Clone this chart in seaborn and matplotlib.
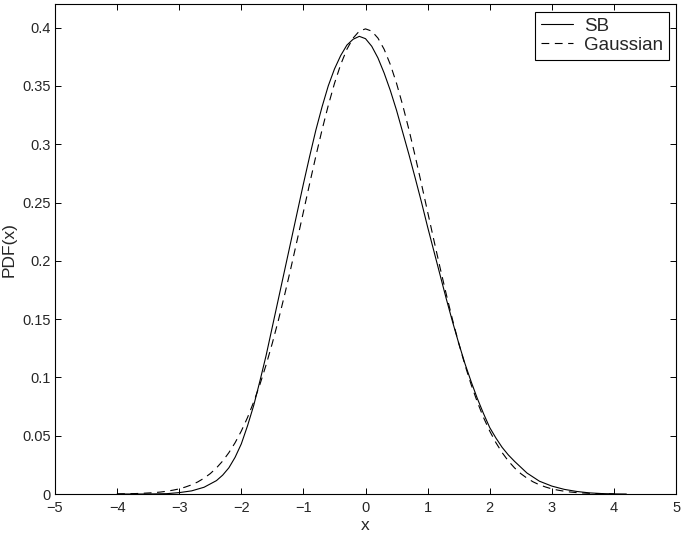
import pandas as pd
import numpy as np
import matplotlib
matplotlib.use('Agg')
import matplotlib.pyplot as plt
import seaborn as sns

# Các giá trị
x_sb = [-4.0, -3.8, -3.6, -3.4, -3.2, -3.0, -2.8, -2.6, -2.4, -2.3, -2.2, -2.1, -2.0,
        -1.9, -1.8, -1.7, -1.6, -1.5, -1.4, -1.3, -1.2, -1.1, -1.0, -0.9, -0.8, -0.7,
        -0.6, -0.5, -0.4, -0.3, -0.2, -0.1, 0.0, 0.1, 0.2, 0.3, 0.4, 0.5, 0.6, 0.7,
        0.8, 0.9, 1.0, 1.1, 1.2, 1.3, 1.4, 1.5, 1.6, 1.7, 1.8, 1.9, 2.0, 2.1, 2.2,
        2.3, 2.4, 2.6, 2.8, 3.0, 3.2, 3.4, 3.6, 3.8, 4.0, 4.2]
pdf_sb = [0.0, 0.0, 0.0, 0.0001, 0.0003, 0.0012, 0.0027, 0.0058, 0.0115, 0.0162,
          0.0225, 0.0315, 0.0430, 0.0585, 0.0760, 0.0970, 0.1190, 0.1435, 0.1680,
          0.1925, 0.2170, 0.2415, 0.2660, 0.2895, 0.3120, 0.3320, 0.3500, 0.3645,
          0.3760, 0.3850, 0.3900, 0.3925, 0.3905, 0.3840, 0.3740, 0.3610, 0.3460,
          0.3290, 0.3100, 0.2910, 0.2710, 0.2505, 0.2290, 0.2085, 0.1880, 0.1675,
          0.1480, 0.1295, 0.1120, 0.0965, 0.0820, 0.0690, 0.0570, 0.0480, 0.0400,
          0.0335, 0.0280, 0.0180, 0.0110, 0.0068, 0.0040, 0.0022, 0.0010, 0.0004,
          0.0001, 0.0]

x_gauss = [-4.0, -3.9, -3.8, -3.7, -3.6, -3.5, -3.4, -3.3, -3.2, -3.1, -3.0, -2.9,
           -2.8, -2.7, -2.6, -2.5, -2.4, -2.3, -2.2, -2.1, -2.0, -1.9, -1.8, -1.7,
           -1.6, -1.5, -1.4, -1.3, -1.2, -1.1, -1.0, -0.9, -0.8, -0.7, -0.6, -0.5,
           -0.4, -0.3, -0.2, -0.1, 0.0, 0.1, 0.2, 0.3, 0.4, 0.5, 0.6, 0.7, 0.8, 0.9,
           1.0, 1.1, 1.2, 1.3, 1.4, 1.5, 1.6, 1.7, 1.8, 1.9, 2.0, 2.1, 2.2, 2.3, 2.4,
           2.5, 2.6, 2.7, 2.8, 2.9, 3.0, 3.1, 3.2, 3.3, 3.4, 3.5, 3.6, 3.7, 3.8, 3.9, 4.0]
pdf_gauss = [0.0001, 0.0002, 0.0003, 0.0004, 0.0006, 0.0009, 0.0012, 0.0017, 0.0024,
             0.0033, 0.0044, 0.0060, 0.0079, 0.0104, 0.0136, 0.0175, 0.0224, 0.0283,
             0.0355, 0.0440, 0.0540, 0.0656, 0.0790, 0.0940, 0.1109, 0.1295, 0.1497,
             0.1714, 0.1942, 0.2179, 0.2420, 0.2661, 0.2897, 0.3123, 0.3332, 0.3521,
             0.3683, 0.3814, 0.3910, 0.3970, 0.3989, 0.3970, 0.3910, 0.3814, 0.3683,
             0.3521, 0.3332, 0.3123, 0.2897, 0.2661, 0.2420, 0.2179, 0.1942, 0.1714,
             0.1497, 0.1295, 0.1109, 0.0940, 0.0790, 0.0656, 0.0540, 0.0440, 0.0355,
             0.0283, 0.0224, 0.0175, 0.0136, 0.0104, 0.0079, 0.0060, 0.0044, 0.0033,
             0.0024, 0.0017, 0.0012, 0.0009, 0.0006, 0.0004, 0.0003, 0.0002, 0.0001]

x_ticks = [-5, -4, -3, -2, -1, 0, 1, 2, 3, 4, 5]
y_ticks = [0, 0.05, 0.1, 0.15, 0.2, 0.25, 0.3, 0.35, 0.4]
y_tick_labels = ['0', '0.05', '0.1', '0.15', '0.2', '0.25', '0.3', '0.35', '0.4']

df = pd.concat([
    pd.DataFrame({'x': x_sb, 'pdf': pdf_sb, 'curve': 'SB'}),
    pd.DataFrame({'x': x_gauss, 'pdf': pdf_gauss, 'curve': 'Gaussian'}),
], ignore_index=True)

sns.set_style('ticks')
plt.rcParams['font.family'] = ['Liberation Sans', 'DejaVu Sans']
plt.rcParams['xtick.direction'] = 'in'
plt.rcParams['ytick.direction'] = 'in'

fig = plt.figure(figsize=(6.85, 5.35), dpi=100)
ax = fig.add_axes([0.0803, 0.0766, 0.9066, 0.9154])

sns.lineplot(data=df, x='x', y='pdf', hue='curve', style='curve',
             palette={'SB': 'black', 'Gaussian': 'black'},
             dashes={'SB': '', 'Gaussian': (7, 5)},
             estimator=None, sort=True, linewidth=0.8, ax=ax)

ax.set_xlim(-5, 5)
ax.set_ylim(0, 0.42)
ax.set_xticks(x_ticks)
ax.set_yticks(y_ticks)
ax.set_yticklabels(y_tick_labels)
ax.tick_params(axis='both', labelsize=10.5, length=4, width=0.7, color='black',
               top=True, right=True)
ax.tick_params(axis='x', pad=5)
ax.tick_params(axis='y', pad=3)
for sp in ax.spines.values():
    sp.set_linewidth(0.8)
    sp.set_color('black')

ax.set_xlabel('x', fontsize=12.5, labelpad=2)
ax.set_ylabel('PDF(x)', fontsize=12.5, labelpad=4)

leg = ax.legend(loc='upper right', fontsize=13.5, frameon=True, fancybox=False,
                edgecolor='black', framealpha=1, borderaxespad=0.4,
                handlelength=1.7, handletextpad=0.6, borderpad=0.3,
                labelspacing=0.12)
leg.get_frame().set_linewidth(0.8)

fig.savefig('out.png', dpi=100)
